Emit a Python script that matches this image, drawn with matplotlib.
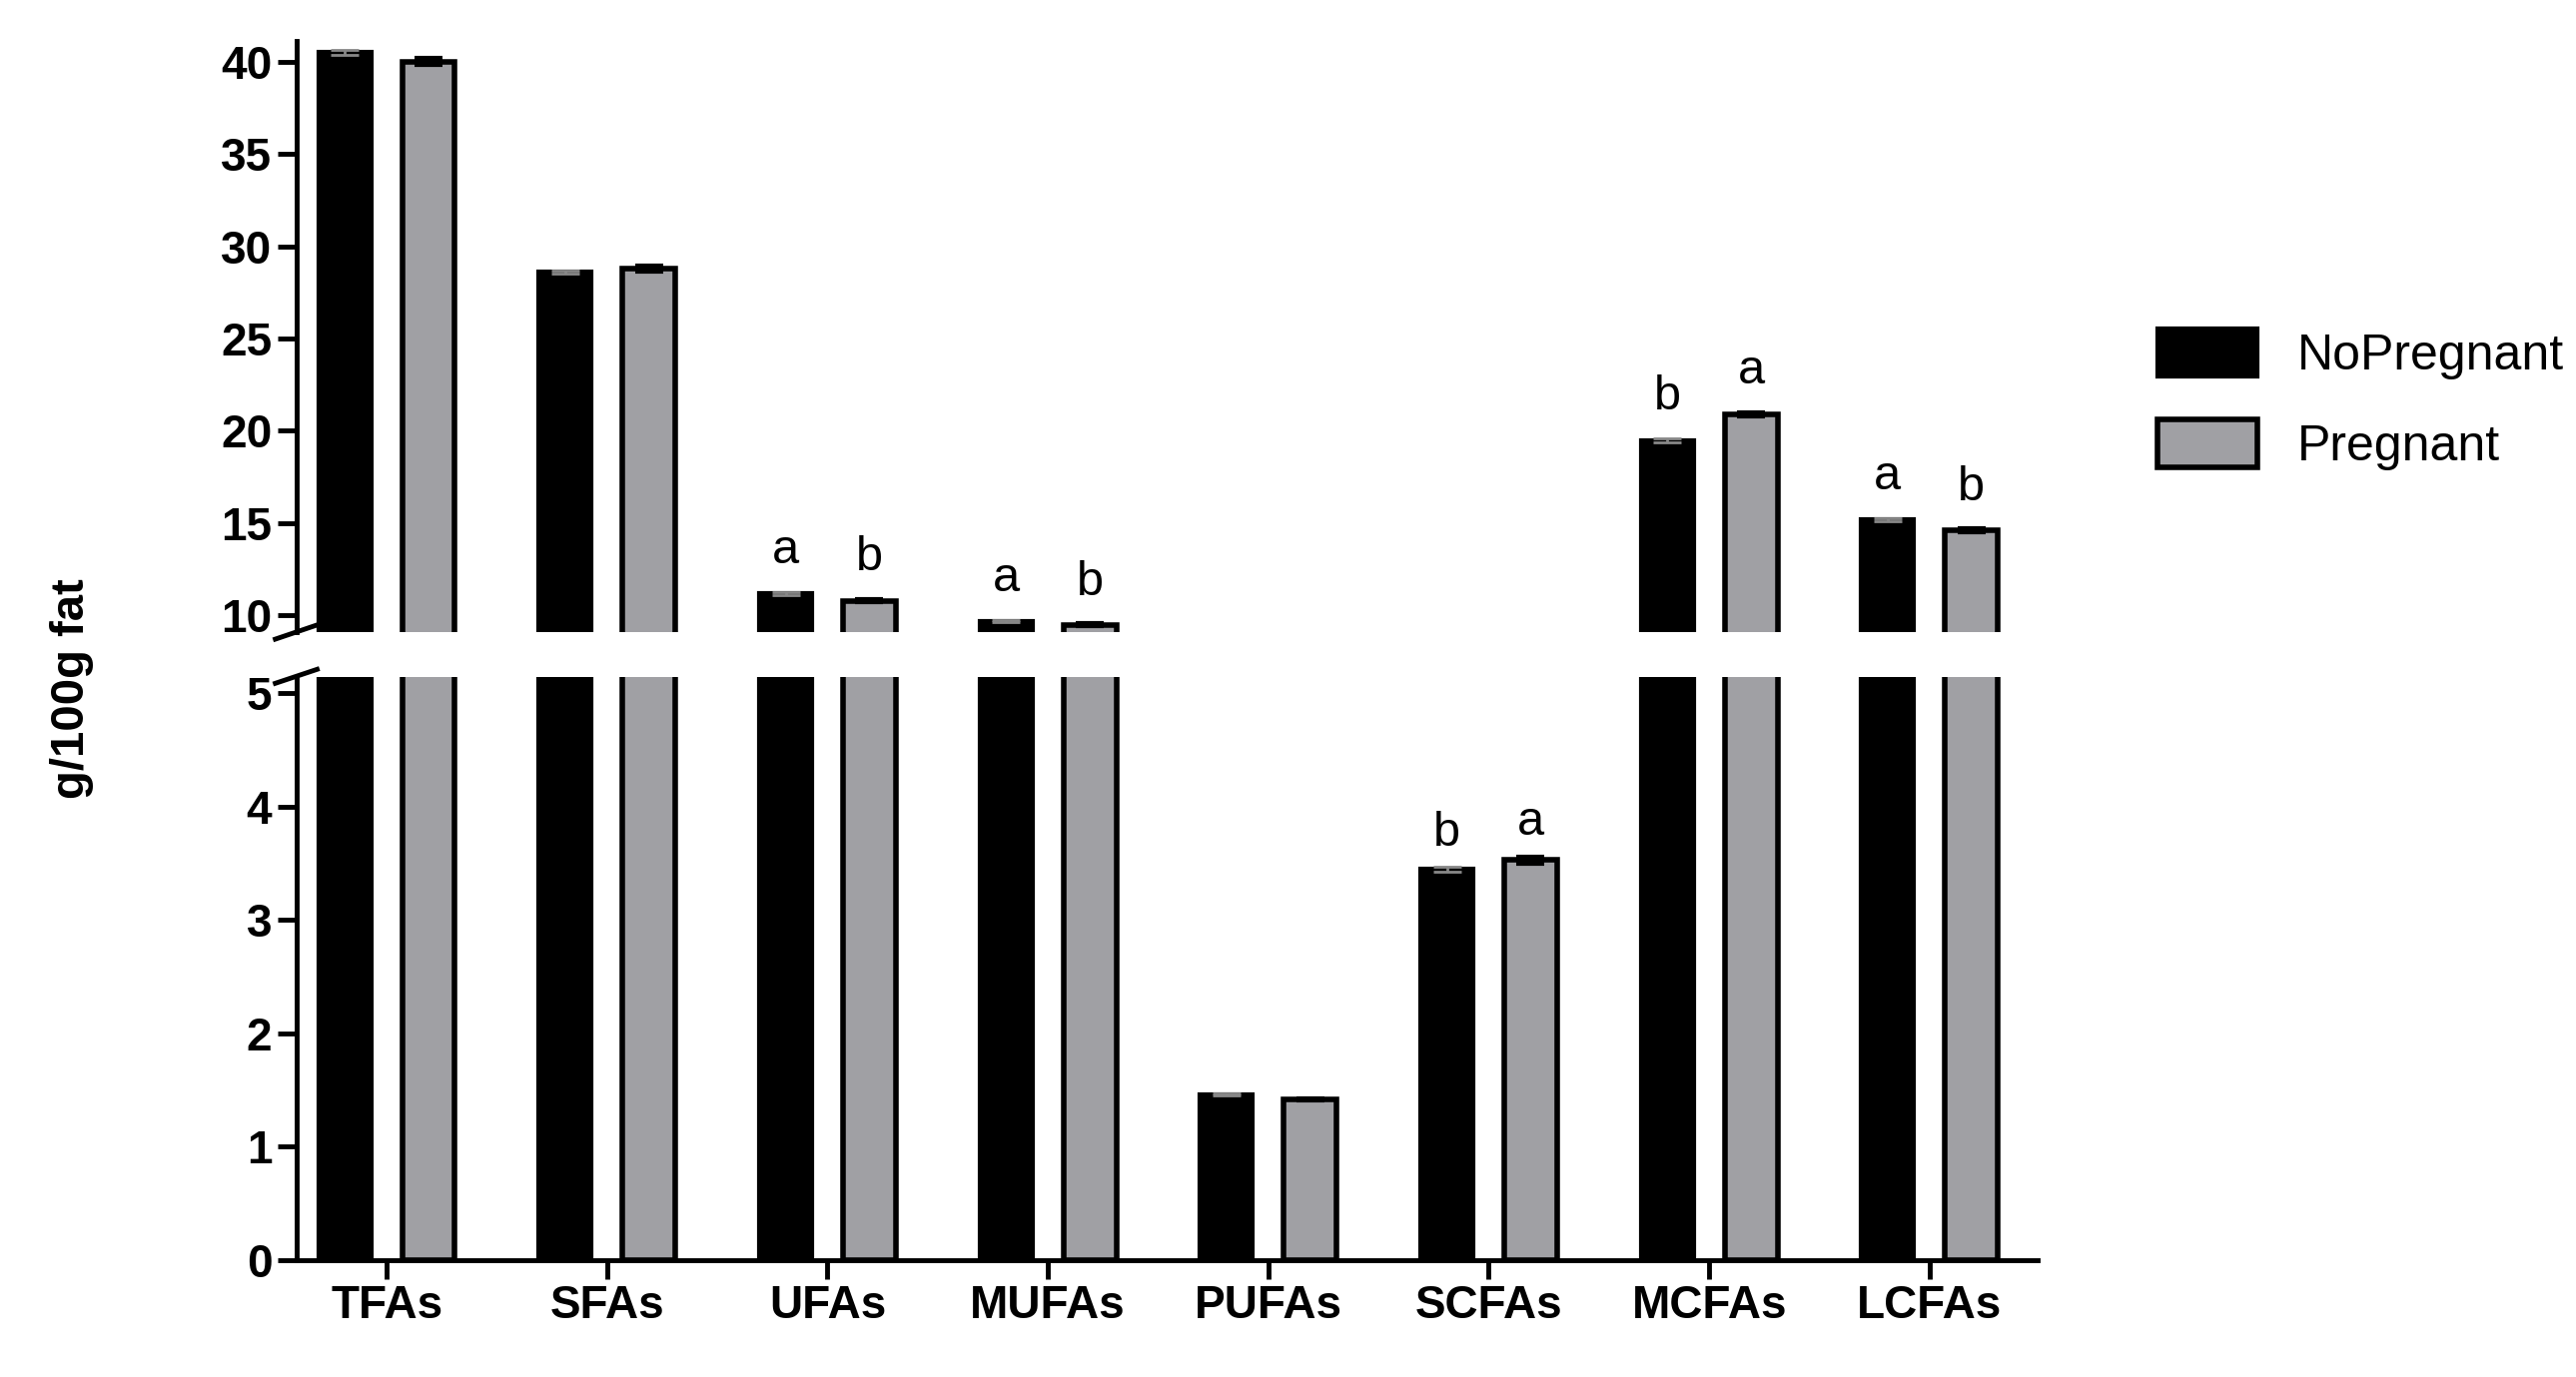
import numpy as np
import matplotlib.pyplot as plt

plt.rcParams['font.family'] = ['Liberation Sans', 'DejaVu Sans']

categories = ['TFAs', 'SFAs', 'UFAs', 'MUFAs', 'PUFAs', 'SCFAs', 'MCFAs', 'LCFAs']
no_pregnant = [40.5, 28.6, 11.2, 9.7, 1.46, 3.45, 19.5, 15.2]
pregnant = [40.0, 28.8, 10.8, 9.5, 1.42, 3.53, 20.9, 14.6]
err_np = [0.15, 0.1, 0.08, 0.06, 0.01, 0.02, 0.1, 0.08]
err_p = [0.2, 0.15, 0.1, 0.06, 0.01, 0.03, 0.12, 0.1]
letters_np = ['', '', 'a', 'a', '', 'b', 'b', 'a']
letters_p = ['', '', 'b', 'b', '', 'a', 'a', 'b']

x = np.arange(len(categories))
w = 0.24
off = 0.19
gray = '#A0A0A4'

fig = plt.figure(figsize=(25.79, 13.79), dpi=100)
ax_top = fig.add_axes([0.115, 0.541, 0.676, 0.429])
ax_bot = fig.add_axes([0.115, 0.085, 0.676, 0.423])

for ax in (ax_top, ax_bot):
    ax.bar(x - off, no_pregnant, w, color='black', edgecolor='black', linewidth=3,
           yerr=err_np, error_kw=dict(ecolor='#888888', capsize=10, capthick=2, elinewidth=2),
           label='NoPregnant')
    ax.bar(x + off, pregnant, w, color=gray, edgecolor='black', linewidth=4,
           yerr=err_p, error_kw=dict(ecolor='black', capsize=10, capthick=3, elinewidth=3),
           label='Pregnant')
    ax.set_xlim(-0.41, 7.49)
    for s in ('top', 'right'):
        ax.spines[s].set_visible(False)
    ax.spines['left'].set_linewidth(3.5)
    ax.spines['bottom'].set_linewidth(3.5)
    ax.tick_params(width=3.5, length=14, labelsize=33)

ax_top.set_ylim(9.1, 41.1)
ax_top.set_yticks([10, 15, 20, 25, 30, 35, 40])
ax_top.spines['bottom'].set_visible(False)
ax_top.set_xticks([])
for lab in ax_top.get_yticklabels():
    lab.set_fontweight('bold')

ax_bot.set_ylim(0, 5.14)
ax_bot.set_yticks([0, 1, 2, 3, 4, 5])
ax_bot.set_xticks(x)
ax_bot.set_xticklabels(categories)
for lab in ax_bot.get_yticklabels() + ax_bot.get_xticklabels():
    lab.set_fontweight('bold')

# letters
for i in range(len(categories)):
    ax = ax_bot if no_pregnant[i] < 5 else ax_top
    dy = 0.1 if ax is ax_bot else 1.0
    if letters_np[i]:
        ax.text(x[i] - off, no_pregnant[i] + err_np[i] + dy, letters_np[i], ha='center',
                va='bottom', fontsize=35)
    if letters_p[i]:
        ax.text(x[i] + off, pregnant[i] + err_p[i] + dy, letters_p[i], ha='center',
                va='bottom', fontsize=35)

# break marks
kw = dict(color='black', lw=3.5, clip_on=False)
ax_top.plot([-0.012, 0.012], [-0.012, 0.012], transform=ax_top.transAxes, **kw)
ax_bot.plot([-0.012, 0.012], [0.99, 1.014], transform=ax_bot.transAxes, **kw)

fig.text(0.028, 0.5, 'g/100g fat', rotation=90, ha='center', va='center',
         fontsize=34, fontweight='bold')

h, l = ax_top.get_legend_handles_labels()
fig.legend(h, l, loc='center left', bbox_to_anchor=(0.82, 0.71), frameon=False,
           fontsize=36, handlelength=2.0, handleheight=1.1, labelspacing=0.8)

plt.savefig('out.png', dpi=100)
